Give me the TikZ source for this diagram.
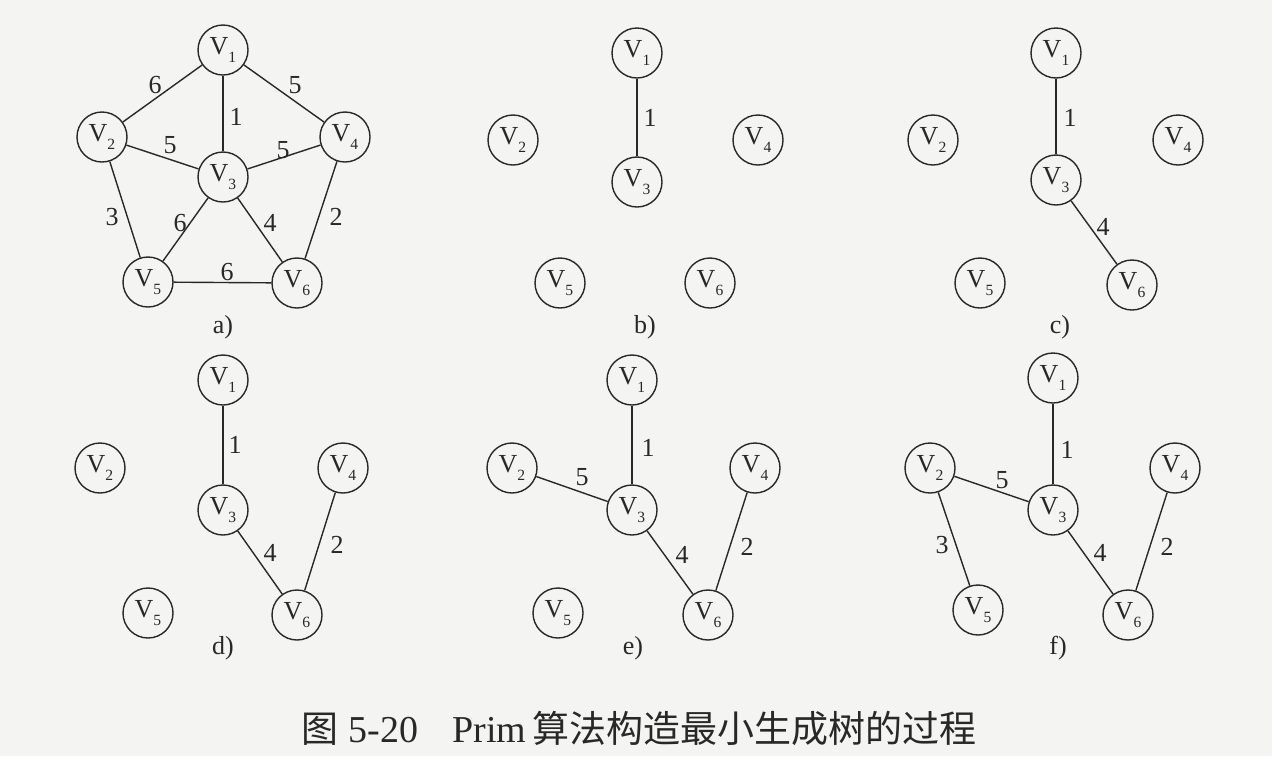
\documentclass[tikz,border=0pt]{standalone}
\usepackage{fontspec}
\setmainfont{Liberation Serif}
\newfontfamily\cjk{Noto Sans CJK SC}
\definecolor{bgc}{RGB}{244,245,243}
\definecolor{ink}{RGB}{40,40,40}
\newcommand\vsb[1]{\raisebox{-0.3em}{\fontsize{7.8}{7.8}\selectfont #1}}
\tikzset{
  vtx/.style={circle,draw=ink,line width=0.7pt,minimum size=25pt,inner sep=0pt,
    font=\fontsize{13}{13}\selectfont,text=ink},
  lbl/.style={inner sep=0pt,font=\fontsize{13}{13}\selectfont,text=ink},
  plabel/.style={inner sep=0pt,font=\fontsize{13}{13}\selectfont,text=ink},
  edg/.style={draw=ink,line width=0.7pt}
}
\begin{document}
\begin{tikzpicture}[x=0.5pt,y=-0.5pt]
\fill[bgc] (0,0) rectangle (1272,756);
\useasboundingbox (0,0) rectangle (1272,756);
% ---------- a)
\node[vtx] (a1) at (223,50) {V\vsb{1}};
\node[vtx] (a2) at (102,137) {V\vsb{2}};
\node[vtx] (a3) at (223,177) {V\vsb{3}};
\node[vtx] (a4) at (345,137) {V\vsb{4}};
\node[vtx] (a5) at (148,282) {V\vsb{5}};
\node[vtx] (a6) at (297,283) {V\vsb{6}};
\draw[edg] (a1)--(a2); \draw[edg] (a1)--(a3); \draw[edg] (a1)--(a4);
\draw[edg] (a2)--(a3); \draw[edg] (a3)--(a4); \draw[edg] (a2)--(a5);
\draw[edg] (a3)--(a5); \draw[edg] (a3)--(a6); \draw[edg] (a4)--(a6);
\draw[edg] (a5)--(a6);
\node[lbl] (la12) at (155,85) {6};
\node[lbl] (la14) at (295,85) {5};
\node[lbl] (la13) at (236,117) {1};
\node[lbl] (la23) at (170,145) {5};
\node[lbl] (la34) at (283,150) {5};
\node[lbl] (la25) at (112,217) {3};
\node[lbl] (la35) at (180,223) {6};
\node[lbl] (la36) at (270,223) {4};
\node[lbl] (la46) at (336,217) {2};
\node[lbl] (la56) at (227,272) {6};
\node[plabel] (ca) at (223,327) {a)};
% ---------- b)
\node[vtx] (b1) at (637,53) {V\vsb{1}};
\node[vtx] (b2) at (513,140) {V\vsb{2}};
\node[vtx] (b3) at (637,182) {V\vsb{3}};
\node[vtx] (b4) at (758,140) {V\vsb{4}};
\node[vtx] (b5) at (560,283) {V\vsb{5}};
\node[vtx] (b6) at (710,283) {V\vsb{6}};
\draw[edg] (b1)--(b3);
\node[lbl] (lb13) at (650,118) {1};
\node[plabel] (cb) at (645,327) {b)};
% ---------- c)
\node[vtx] (c1) at (1056,53) {V\vsb{1}};
\node[vtx] (c2) at (933,140) {V\vsb{2}};
\node[vtx] (c3) at (1056,180) {V\vsb{3}};
\node[vtx] (c4) at (1178,140) {V\vsb{4}};
\node[vtx] (c5) at (980,283) {V\vsb{5}};
\node[vtx] (c6) at (1132,285) {V\vsb{6}};
\draw[edg] (c1)--(c3); \draw[edg] (c3)--(c6);
\node[lbl] (lc13) at (1070,118) {1};
\node[lbl] (lc36) at (1103,227) {4};
\node[plabel] (cc) at (1060,327) {c)};
% ---------- d)
\node[vtx] (d1) at (223,380) {V\vsb{1}};
\node[vtx] (d2) at (100,468) {V\vsb{2}};
\node[vtx] (d3) at (223,510) {V\vsb{3}};
\node[vtx] (d4) at (343,468) {V\vsb{4}};
\node[vtx] (d5) at (148,613) {V\vsb{5}};
\node[vtx] (d6) at (297,615) {V\vsb{6}};
\draw[edg] (d1)--(d3); \draw[edg] (d3)--(d6); \draw[edg] (d4)--(d6);
\node[lbl] (ld13) at (235,445) {1};
\node[lbl] (ld36) at (270,553) {4};
\node[lbl] (ld46) at (337,545) {2};
\node[plabel] (cd) at (223,648) {d)};
% ---------- e)
\node[vtx] (e1) at (632,380) {V\vsb{1}};
\node[vtx] (e2) at (512,468) {V\vsb{2}};
\node[vtx] (e3) at (632,510) {V\vsb{3}};
\node[vtx] (e4) at (755,468) {V\vsb{4}};
\node[vtx] (e5) at (558,613) {V\vsb{5}};
\node[vtx] (e6) at (708,615) {V\vsb{6}};
\draw[edg] (e1)--(e3); \draw[edg] (e2)--(e3); \draw[edg] (e3)--(e6); \draw[edg] (e4)--(e6);
\node[lbl] (le13) at (648,448) {1};
\node[lbl] (le23) at (582,477) {5};
\node[lbl] (le36) at (682,555) {4};
\node[lbl] (le46) at (747,547) {2};
\node[plabel] (ce) at (633,648) {e)};
% ---------- f)
\node[vtx] (f1) at (1053,378) {V\vsb{1}};
\node[vtx] (f2) at (930,468) {V\vsb{2}};
\node[vtx] (f3) at (1053,510) {V\vsb{3}};
\node[vtx] (f4) at (1175,468) {V\vsb{4}};
\node[vtx] (f5) at (978,610) {V\vsb{5}};
\node[vtx] (f6) at (1128,615) {V\vsb{6}};
\draw[edg] (f1)--(f3); \draw[edg] (f2)--(f3); \draw[edg] (f2)--(f5);
\draw[edg] (f3)--(f6); \draw[edg] (f4)--(f6);
\node[lbl] (lf13) at (1067,450) {1};
\node[lbl] (lf23) at (1002,480) {5};
\node[lbl] (lf25) at (942,545) {3};
\node[lbl] (lf36) at (1100,553) {4};
\node[lbl] (lf46) at (1167,547) {2};
\node[plabel] (cf) at (1058,648) {f)};
% ---------- caption
\node[inner sep=0pt,text=ink,font=\fontsize{19}{19}\selectfont] (title) at (639,728)
  {{\fontsize{18.5}{18.5}\selectfont\cjk 图}\hspace{5pt}5-20\hspace{17pt}Prim\hspace{3pt}{\fontsize{18.5}{18.5}\selectfont\cjk 算法构造最小生成树的过程}};
\end{tikzpicture}
\end{document}
